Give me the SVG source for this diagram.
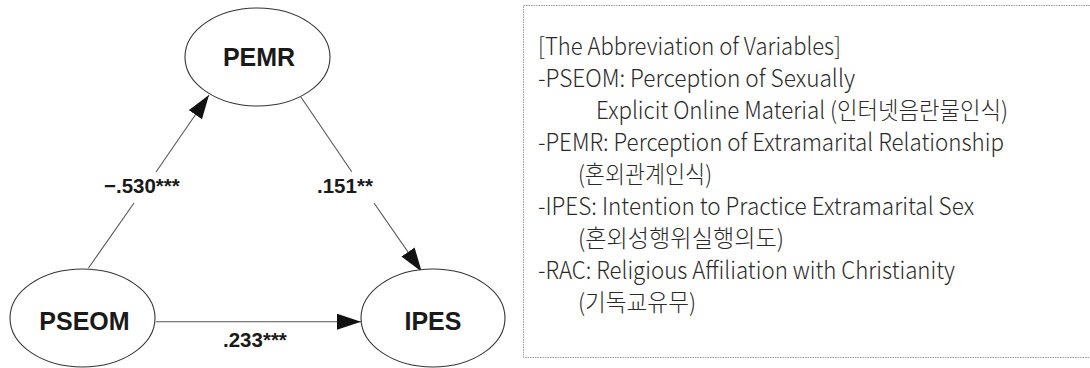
<svg xmlns="http://www.w3.org/2000/svg" width="1090" height="368" viewBox="0 0 1090 368">
<style>
.node ellipse{fill:#fff;stroke:#333;stroke-width:1.1}
.node text{font-family:"Liberation Sans",Arial,sans-serif;font-weight:bold;font-size:25px;fill:#1a1a1a;text-anchor:middle}
.edge{stroke:#555;stroke-width:1.1;fill:none}
.lbl{font-family:"Liberation Sans",Arial,sans-serif;font-weight:bold;font-size:20.5px;fill:#1a1a1a}
.leg{font-family:"Noto Sans CJK KR","Noto Sans",sans-serif;font-weight:300;font-size:24px;fill:#2a2a2a}
</style>
<defs>
<marker id="ah" markerUnits="userSpaceOnUse" markerWidth="26" markerHeight="18" refX="24" refY="8" orient="auto">
<path d="M0,0 L24,8 L0,16 Z" fill="#111"/>
</marker>
</defs>
<rect width="1090" height="368" fill="#fff"/>
<g id="connectors">
<line class="edge" x1="88.5" y1="268" x2="134" y2="203"/>
<line class="edge" x1="156" y1="172" x2="209" y2="95" marker-end="url(#ah)"/>
<line class="edge" x1="300.7" y1="96.7" x2="351.7" y2="171.7"/>
<line class="edge" x1="374" y1="203" x2="421.7" y2="271.7" marker-end="url(#ah)"/>
<line class="edge" x1="156" y1="321.7" x2="361" y2="321.7" marker-end="url(#ah)"/>
<text class="lbl" x="104" y="193">−.530***</text>
<text class="lbl" x="317" y="193">.151**</text>
<text class="lbl" x="223" y="347">.233***</text>
</g>
<g id="PEMR" class="node">
<ellipse cx="257.5" cy="57" rx="72.5" ry="49"/>
<text x="259" y="66">PEMR</text>
</g>
<g id="PSEOM" class="node">
<ellipse cx="82.5" cy="318" rx="72.5" ry="49"/>
<text x="84.5" y="330">PSEOM</text>
</g>
<g id="IPES" class="node">
<ellipse cx="433" cy="318" rx="72" ry="49"/>
<text x="433" y="330">IPES</text>
</g>
<g id="legend">
<path d="M1090,5.5 H523.5 V357.5 H1090" fill="none" stroke="#999" stroke-width="1" stroke-dasharray="1.5,1"/>
<text class="leg" x="538" y="55" textLength="303" lengthAdjust="spacingAndGlyphs">[The Abbreviation of Variables]</text>
<text class="leg" x="538" y="87" textLength="317" lengthAdjust="spacingAndGlyphs">-PSEOM: Perception of Sexually</text>
<text class="leg" x="596" y="119" textLength="412" lengthAdjust="spacingAndGlyphs">Explicit Online Material (인터넷음란물인식)</text>
<text class="leg" x="538" y="151" textLength="466" lengthAdjust="spacingAndGlyphs">-PEMR: Perception of Extramarital Relationship</text>
<text class="leg" x="578" y="183" textLength="134" lengthAdjust="spacingAndGlyphs">(혼외관계인식)</text>
<text class="leg" x="538" y="215" textLength="436" lengthAdjust="spacingAndGlyphs">-IPES: Intention to Practice Extramarital Sex</text>
<text class="leg" x="578" y="247" textLength="206" lengthAdjust="spacingAndGlyphs">(혼외성행위실행의도)</text>
<text class="leg" x="538" y="279" textLength="417" lengthAdjust="spacingAndGlyphs">-RAC: Religious Affiliation with Christianity</text>
<text class="leg" x="578" y="311" textLength="118" lengthAdjust="spacingAndGlyphs">(기독교유무)</text>
</g>
</svg>
